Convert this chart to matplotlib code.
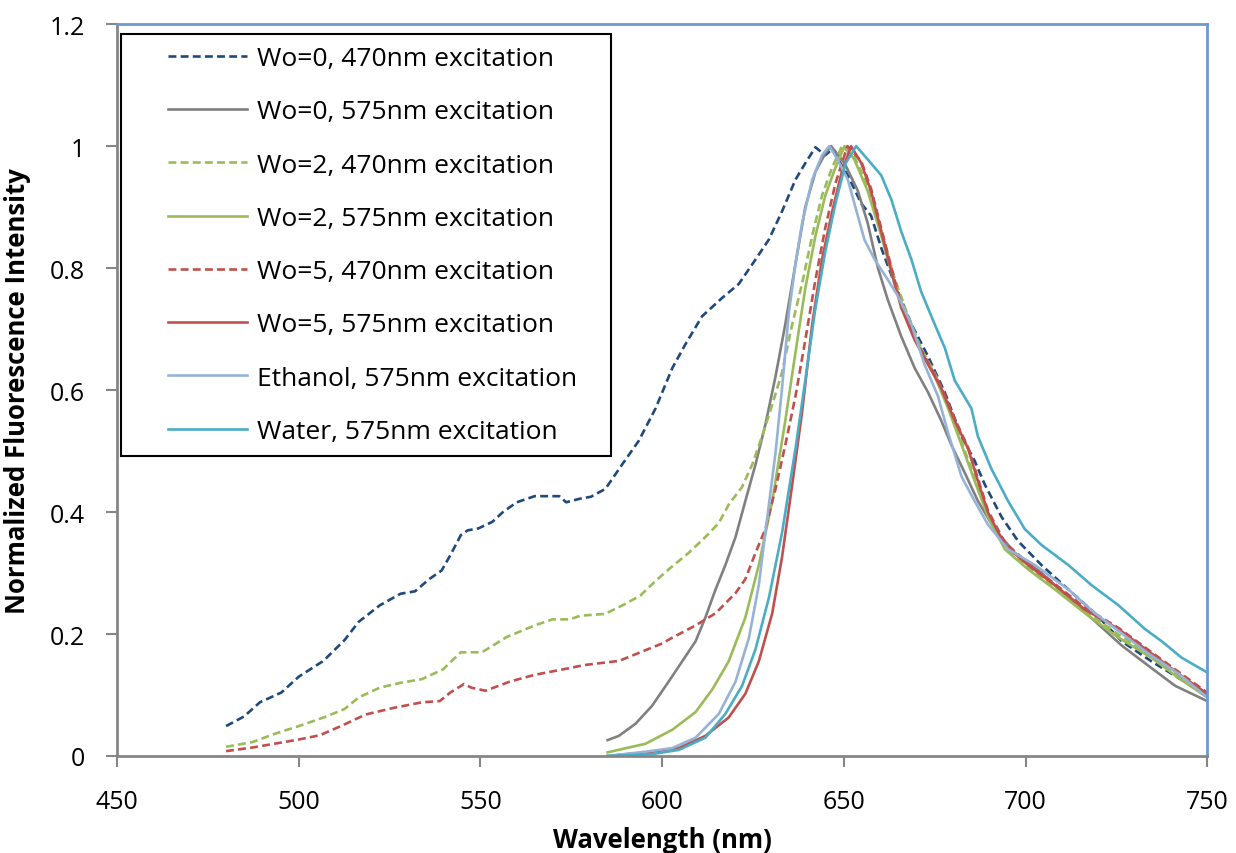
import matplotlib
matplotlib.use("Agg")
import matplotlib.pyplot as plt
from matplotlib.ticker import MultipleLocator
from matplotlib.legend_handler import HandlerLine2D
from matplotlib.lines import Line2D
from matplotlib.patches import Rectangle
from matplotlib.transforms import IdentityTransform

# 读图得到的数据 (波长 nm, 归一化荧光强度)
wo0_470_x = [480, 485, 489.3, 495.2, 500, 506.8, 512.6, 516.5, 522.3, 528, 532, 535.9, 539.3, 541.7,
             544.6, 546.5, 549.4, 553.3, 556.2, 560, 564.9, 568.8, 571.7, 573.6, 577.5, 580.4, 584.4,
             589, 593.6, 598.2, 602.8, 606.4, 611, 616.5, 621.1, 625.7, 629.4, 633, 636.7, 639.4,
             642.2, 644.9, 646.8, 651.1, 654.8, 657.5, 660.3, 664, 668.6, 673.2, 677.8, 682.4, 686,
             688.8, 693.4, 698, 704.4, 711.8, 719.1, 726.5, 734.7, 742.1, 750]
wo0_470_y = [0.049, 0.065, 0.088, 0.104, 0.13, 0.156, 0.19, 0.22, 0.247, 0.266, 0.27, 0.29, 0.304, 0.329,
             0.362, 0.37, 0.373, 0.384, 0.4, 0.416, 0.426, 0.426, 0.426, 0.416, 0.422, 0.425, 0.438,
             0.478, 0.517, 0.57, 0.636, 0.675, 0.721, 0.751, 0.774, 0.814, 0.847, 0.893, 0.945, 0.972,
             0.998, 0.985, 0.995, 0.952, 0.906, 0.886, 0.833, 0.774, 0.708, 0.655, 0.596, 0.524, 0.484,
             0.445, 0.392, 0.352, 0.313, 0.273, 0.234, 0.188, 0.155, 0.128, 0.099]

wo0_575_x = [585, 588.1, 592.7, 597.2, 601.8, 605.5, 609.2, 611.9, 614.7, 617.4, 620.2, 622.9, 625.7,
             628.4, 631.2, 633.9, 636.7, 639.4, 642.2, 644.9, 646.5, 650.2, 653.9, 656.6, 659.4, 662.1,
             665.8, 669.5, 673.2, 676.8, 679.6, 683.3, 686.9, 691.5, 697.1, 704.4, 711.8, 719.1, 726.5,
             733.8, 741.2, 750]
wo0_575_y = [0.026, 0.033, 0.053, 0.082, 0.122, 0.155, 0.188, 0.227, 0.273, 0.313, 0.359, 0.418, 0.478,
             0.543, 0.622, 0.708, 0.807, 0.9, 0.958, 0.988, 1.0, 0.972, 0.926, 0.873, 0.8, 0.748,
             0.688, 0.636, 0.596, 0.55, 0.51, 0.464, 0.418, 0.372, 0.333, 0.3, 0.26, 0.221, 0.181,
             0.148, 0.115, 0.09]

wo2_470_x = [480, 487.4, 493.2, 500, 506.8, 512.6, 516.5, 522.3, 528, 533.9, 539.7, 544.6, 550.4, 557.2,
             564.9, 569.8, 574.6, 577.5, 584.3, 589.1, 594, 598.2, 601.8, 607.3, 611.9, 615.6, 618.3,
             622, 624.8, 627.5, 630.3, 633, 635.8, 638.5, 641.3, 644, 646.8, 649.5, 652.9, 656.6,
             660.3, 664, 667.6, 671.3, 675, 678.7, 682.4, 686, 689.7, 694.3, 700.7, 708.1, 716.4,
             725.6, 734.7, 742.1, 750]
wo2_470_y = [0.015, 0.023, 0.036, 0.049, 0.063, 0.077, 0.096, 0.112, 0.12, 0.126, 0.142, 0.17, 0.17, 0.195,
             0.214, 0.224, 0.224, 0.23, 0.233, 0.247, 0.263, 0.287, 0.306, 0.333, 0.359, 0.382, 0.412,
             0.441, 0.478, 0.524, 0.576, 0.629, 0.708, 0.774, 0.853, 0.919, 0.965, 1.0, 0.982, 0.935,
             0.862, 0.783, 0.722, 0.668, 0.628, 0.576, 0.515, 0.456, 0.397, 0.342, 0.31, 0.277, 0.238,
             0.199, 0.165, 0.132, 0.1]

wo2_575_x = [585, 595.4, 602.8, 609.2, 613.8, 618.3, 622.9, 626.6, 630.3, 633.9, 636.7, 639.4, 642.2,
             644.9, 647.7, 650.2, 652.9, 656.6, 660.3, 664, 667.6, 671.3, 675, 678.7, 682.4, 686,
             689.7, 694.3, 700.7, 708.1, 716.4, 725.6, 734.7, 742.1, 750]
wo2_575_y = [0.006, 0.02, 0.043, 0.072, 0.109, 0.155, 0.227, 0.313, 0.418, 0.55, 0.662, 0.767, 0.853,
             0.919, 0.965, 1.0, 0.978, 0.926, 0.853, 0.774, 0.715, 0.662, 0.623, 0.57, 0.51, 0.451,
             0.392, 0.339, 0.306, 0.273, 0.234, 0.194, 0.161, 0.128, 0.096]

wo5_470_x = [480, 487.4, 494.2, 500, 505.8, 511.6, 518.4, 526.2, 533.9, 538.8, 541.7, 545.5, 547.5,
             551.4, 558.1, 564.9, 572.7, 578.5, 588.2, 594, 599.8, 602.8, 609.2, 614.7, 620.2, 622.9,
             625.7, 628.4, 631.2, 633.9, 636.7, 639.4, 642.2, 644.9, 647.7, 651, 654.8, 657.5, 660.3,
             663.1, 665.8, 669.5, 673.2, 676.8, 680.5, 684.2, 686.9, 689.7, 694.3, 700.7, 708.1,
             716.4, 725.6, 734.7, 742.1, 750]
wo5_470_y = [0.008, 0.014, 0.021, 0.027, 0.034, 0.049, 0.068, 0.079, 0.088, 0.09, 0.104, 0.118, 0.112,
             0.107, 0.122, 0.133, 0.142, 0.149, 0.156, 0.17, 0.184, 0.194, 0.214, 0.234, 0.267, 0.29,
             0.333, 0.372, 0.438, 0.51, 0.59, 0.682, 0.781, 0.866, 0.939, 1.0, 0.975, 0.93, 0.865,
             0.8, 0.74, 0.686, 0.645, 0.606, 0.553, 0.506, 0.455, 0.402, 0.35, 0.316, 0.282, 0.243,
             0.21, 0.17, 0.138, 0.104]

wo5_575_x = [585, 597.2, 604.6, 611.9, 618.3, 622.9, 626.6, 630.3, 633, 635.8, 638.5, 641.3, 644,
             646.8, 649.5, 652, 654.8, 657.5, 660.3, 663.1, 665.8, 669.5, 673.2, 676.8, 680.5, 684.2,
             686.9, 689.7, 694.3, 700.7, 708.1, 716.4, 725.6, 734.7, 742.1, 750]
wo5_575_y = [0.0, 0.007, 0.013, 0.033, 0.063, 0.102, 0.155, 0.234, 0.326, 0.445, 0.563, 0.708, 0.814,
             0.893, 0.959, 1.0, 0.972, 0.926, 0.86, 0.794, 0.735, 0.682, 0.642, 0.603, 0.55, 0.504,
             0.451, 0.399, 0.346, 0.313, 0.28, 0.24, 0.208, 0.168, 0.135, 0.102]

ethanol_x = [585, 595.4, 602.8, 609.2, 615.6, 620.2, 623.9, 626.6, 628.4, 631.2, 633, 634.9, 636.7,
             638.5, 641.3, 644, 646, 648.3, 651.1, 652.9, 655.7, 658.5, 662.1, 664.9, 668.6, 672.2,
             675.9, 678.7, 682.4, 686, 689.7, 695.2, 702.6, 711.8, 719.1, 726.5, 733.8, 742.1, 750]
ethanol_y = [0.0, 0.007, 0.013, 0.03, 0.069, 0.122, 0.194, 0.28, 0.366, 0.497, 0.603, 0.728, 0.807,
             0.873, 0.945, 0.985, 1.0, 0.978, 0.945, 0.906, 0.846, 0.814, 0.781, 0.754, 0.708, 0.642,
             0.59, 0.53, 0.458, 0.418, 0.379, 0.339, 0.313, 0.273, 0.234, 0.201, 0.168, 0.135, 0.096]

water_x = [585, 597.2, 604.6, 611.9, 617.4, 622, 625.7, 629.4, 633, 636.7, 639.4, 642.2, 644.9, 647.7,
           650.5, 653.4, 656.6, 660.3, 663.1, 665.8, 668.6, 671.3, 675, 677.8, 680.5, 685.1, 686.9,
           690.6, 695.2, 699.8, 704.4, 711.8, 718.2, 725.6, 732.9, 737.5, 743, 750]
water_y = [0.0, 0.003, 0.01, 0.03, 0.069, 0.115, 0.175, 0.26, 0.366, 0.504, 0.616, 0.735, 0.827, 0.906,
           0.972, 1.0, 0.978, 0.952, 0.912, 0.86, 0.814, 0.761, 0.708, 0.669, 0.616, 0.57, 0.524,
           0.471, 0.418, 0.372, 0.346, 0.313, 0.28, 0.247, 0.208, 0.188, 0.161, 0.137]

labels = ["Wo=0, 470nm excitation", "Wo=0, 575nm excitation",
          "Wo=2, 470nm excitation", "Wo=2, 575nm excitation",
          "Wo=5, 470nm excitation", "Wo=5, 575nm excitation",
          "Ethanol, 575nm excitation", "Water, 575nm excitation"]


def drawing():
    plt.rcParams['font.family'] = ['Open Sans', 'DejaVu Sans']
    fig = plt.figure(figsize=(12.36, 8.54), dpi=100)
    ax = fig.add_axes([0.0947, 0.1136, 0.882, 0.857])

    dash = (0, (3, 1.6))
    series = [
        (wo0_470_x, wo0_470_y, "#1F497D", dash),
        (wo0_575_x, wo0_575_y, "#808080", "-"),
        (wo2_470_x, wo2_470_y, "#9BBB59", dash),
        (wo2_575_x, wo2_575_y, "#9BBB59", "-"),
        (wo5_470_x, wo5_470_y, "#C0504D", dash),
        (wo5_575_x, wo5_575_y, "#C0504D", "-"),
        (ethanol_x, ethanol_y, "#95B3D7", "-"),
        (water_x, water_y, "#4BACC6", "-"),
    ]
    for (x, y, c, ls), lab in zip(series, labels):
        ax.plot(x, y, color=c, linestyle=ls, linewidth=1.9, label=lab)

    ax.set_xlim(450, 750)
    ax.set_ylim(0, 1.2)
    ax.xaxis.set_major_locator(MultipleLocator(50))
    ax.set_yticks([0, 0.2, 0.4, 0.6, 0.8, 1.0, 1.2])
    ax.set_yticklabels(["0", "0.2", "0.4", "0.6", "0.8", "1", "1.2"])

    for s in ["left", "bottom"]:
        ax.spines[s].set_color("#868686")
        ax.spines[s].set_linewidth(2)
    for s in ["top", "right"]:
        ax.spines[s].set_color("#6A9AD0")
        ax.spines[s].set_linewidth(2)
    ax.tick_params(axis="both", direction="out", length=8, width=1.5, color="#868686",
                   labelsize=18)
    ax.tick_params(axis="x", pad=16)
    ax.tick_params(axis="y", pad=15)

    ax.set_xlabel("Wavelength (nm)", fontsize=18.5, fontweight="bold")
    ax.xaxis.set_label_coords(0.5, -0.095)
    ax.set_ylabel("Normalized Fluorescence Intensity", fontsize=18.5, fontweight="bold")
    ax.yaxis.set_label_coords(-0.079, 0.5)

    # 图例: 线段左侧留白, 外框另画
    leg = ax.legend(loc="upper left", bbox_to_anchor=(0.004, 0.986), borderaxespad=0,
                    fontsize=19, frameon=False,
                    handlelength=4.3, handletextpad=0.38, labelspacing=1.07, borderpad=0.45,
                    handler_map={Line2D: HandlerLine2D(xpad=1.3)})

    fig.canvas.draw()
    bb = leg.get_window_extent()
    frame = Rectangle((bb.x0, bb.y0), bb.width + 22, bb.height, transform=IdentityTransform(),
                      fill=False, edgecolor="black", linewidth=1.5, zorder=5)
    fig.patches.append(frame)

    plt.savefig("out.png", dpi=100)
    plt.close()


if __name__ == '__main__':
    drawing()
